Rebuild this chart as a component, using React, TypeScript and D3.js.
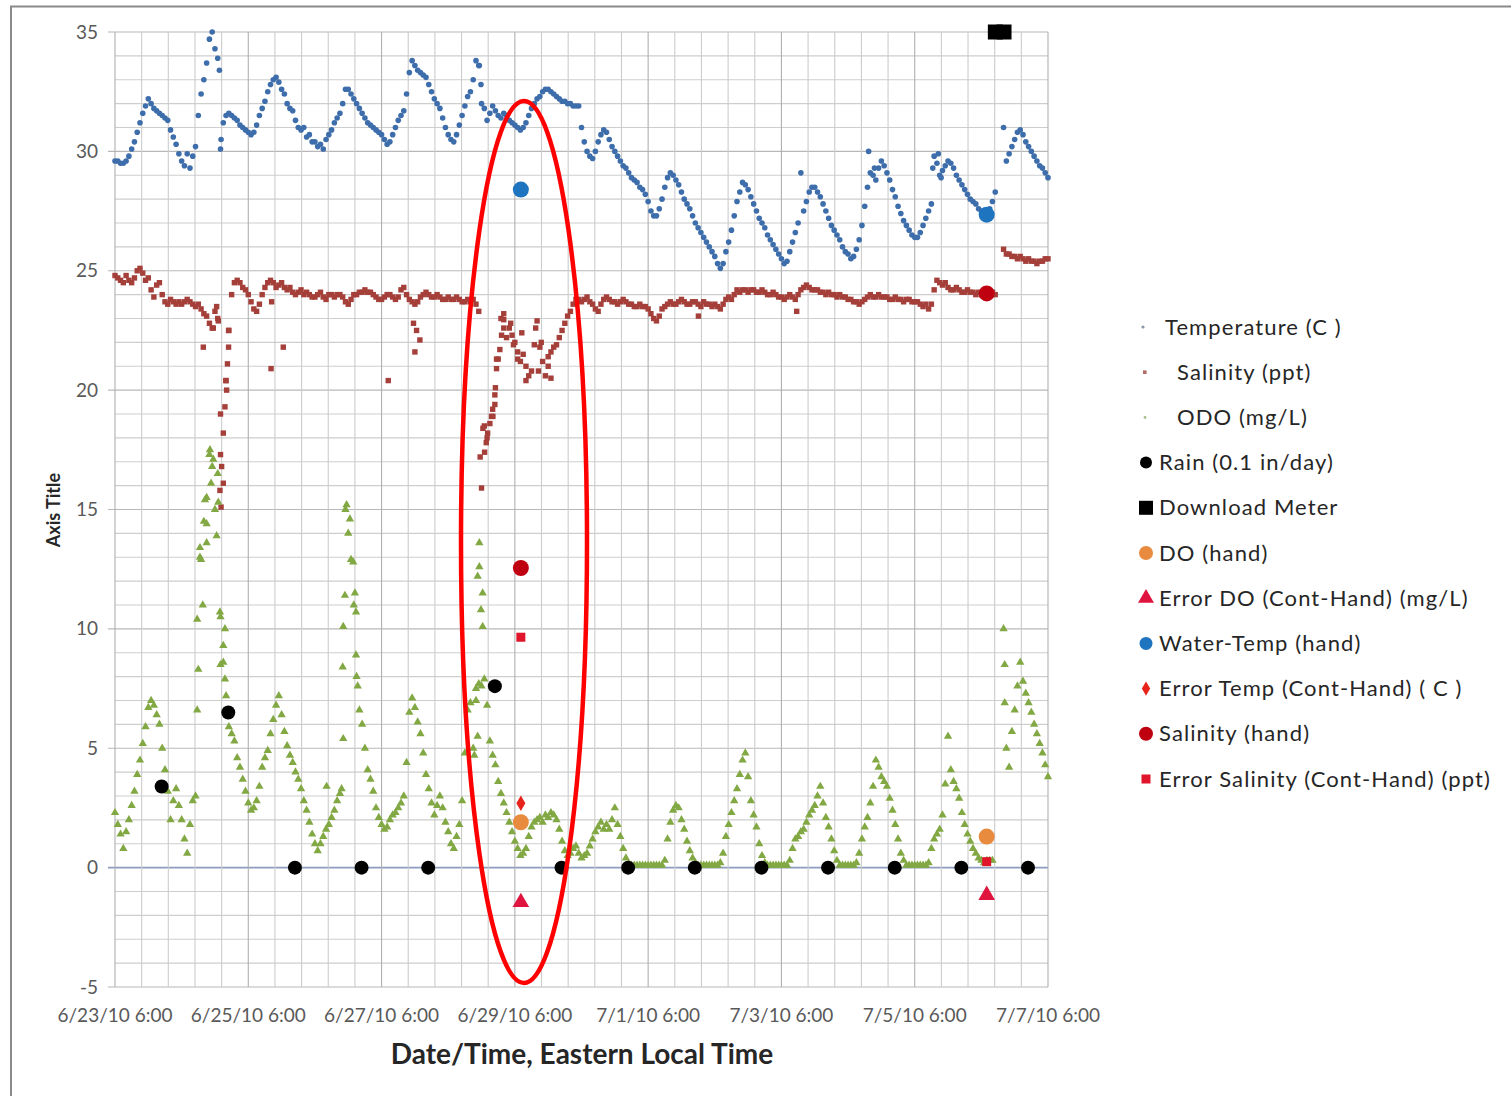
import React from "react";
import * as d3 from "d3";

const W = 1511;
const H = 1096;

// ---- axis labels ----
const xTickLabels = [
  "6/23/10 6:00", "6/25/10 6:00", "6/27/10 6:00", "6/29/10 6:00",
  "7/1/10 6:00", "7/3/10 6:00", "7/5/10 6:00", "7/7/10 6:00",
];
const yTickValues = [35, 30, 25, 20, 15, 10, 5, 0, -5];

// ---- continuous sonde data: hourly readings, hour 0 = 6/23/10 6:00 ----
const temperatureC: (number | null)[] = [
  29.6, 29.6, 29.5, 29.5, 29.6, 29.8, 30.1, 30.4, 30.8, 31.2, 31.6, 31.9, 32.2, 32.0, 31.8, 31.7, 31.6, 31.5, 31.4, 31.3, 30.9, 30.6, 30.3, 29.9,
  29.6, 29.4, 29.9, 29.3, 29.8, 30.2, 31.5, 32.4, 33.0, 33.7, 34.7, 35.0, 34.3, 33.9, 30.1, 31.2, 31.5, 31.6, 31.5, 31.4, 31.3, 31.1, 31.0, 30.9,
  30.8, 30.7, 30.8, 31.1, 31.5, 31.8, 32.1, 32.5, 32.8, 33.0, 33.1, 32.9, 32.6, 32.4, 32.0, 31.8, 31.7, 31.3, 31.0, 30.9, 31.0, 30.6, 30.7, 30.4,
  30.4, 30.2, 30.3, 30.1, 30.5, 30.7, 30.9, 31.2, 31.4, 31.6, 32.0, 32.6, 32.6, 32.4, 32.2, 32.0, 31.8, 31.6, 31.4, 31.2, 31.1, 31.0, 30.9, 30.8,
  30.7, 30.5, 30.3, 30.4, 30.7, 31.0, 31.3, 31.5, 31.7, 32.4, 33.3, 33.8, 33.6, 33.4, 33.3, 33.2, 33.1, 32.8, 32.5, 32.2, 32.0, 31.8, 31.4, 31.0,
  30.7, 30.5, 30.4, 30.7, 31.1, 31.5, 31.9, 32.3, 32.5, 33.0, 33.8, 33.6, 32.0, 31.8, 31.3, 31.6, 31.9, 31.7, 31.5, 31.4, 31.6, 31.5, 31.3, 31.2,
  31.1, 31.0, 30.9, 31.0, 31.2, 31.5, 31.8, 32.0, 32.2, 32.3, 32.5, 32.6, 32.6, 32.5, 32.4, 32.3, 32.2, 32.1, 32.1, 32.0, 32.0, 31.9, 31.9, 31.9,
  31.0, 30.4, 30.0, 29.8, 29.7, 30.0, 30.4, 30.7, 30.9, 30.8, 30.5, 30.2, 30.0, 29.8, 29.6, 29.4, 29.3, 29.1, 28.9, 28.8, 28.7, 28.5, 28.4, 28.2,
  27.9, 27.5, 27.3, 27.3, 27.6, 28.0, 28.5, 28.9, 29.1, 29.0, 28.8, 28.6, 28.3, 28.0, 27.8, 27.6, 27.3, 27.0, 26.8, 26.6, 26.4, 26.2, 26.0, 25.8,
  25.6, 25.3, 25.1, 25.3, 25.8, 26.2, 26.7, 27.3, 27.9, 28.3, 28.7, 28.6, 28.4, 28.1, 27.8, 27.5, 27.2, 27.0, 26.8, 26.5, 26.3, 26.1, 25.9, 25.7,
  25.5, 25.3, 25.4, 25.8, 26.2, 26.6, 27.0, 29.1, 27.5, 27.9, 28.3, 28.5, 28.5, 28.3, 28.1, 27.8, 27.5, 27.2, 26.9, 26.7, 26.5, 26.3, 26.0, 25.8,
  25.7, 25.5, 25.6, 25.9, 26.3, 26.9, 27.7, 28.5, 29.1, 29.0, 28.8, 29.3, 29.6, 29.4, 29.1, 28.8, 28.4, 28.1, 27.7, 27.4, 27.1, 26.9, 26.7, 26.5,
  26.4, 26.4, 26.6, 26.9, 27.2, 27.5, 27.8, 29.8, 29.5, 29.0, 29.2, 29.4, 29.6, 29.5, 29.3, 29.0, 28.8, 28.6, 28.4, 28.2, 28.0, 27.9, 27.8, 27.6,
  27.5, 27.4, 27.4, 27.6, 27.9, 28.3, null, null, 31.0, 29.6, 29.9, 30.2, 30.5, 30.8, 30.9, 30.7, 30.4, 30.2, 30.0, 29.8, 29.6, 29.4, 29.3, 29.1,
  28.9,
];

const salinityPpt: (number | null)[] = [
  24.8, 24.7, 24.6, 24.5, 24.8, 24.6, 24.5, 24.7, 25.0, 25.1, 24.9, 24.6, 24.7, 24.2, 23.9, 24.4, 24.5, 24.0, 23.7, 23.6, 23.8, 23.7, 23.6, 23.7,
  23.6, 23.7, 23.8, 23.7, 23.6, 23.5, 23.6, 23.4, 23.2, 23.1, 22.8, 22.6, 23.3, 23.0, 19.0, 16.1, 20.4, 22.5, 24.0, 24.5, 24.6, 24.5, 24.3, 24.2,
  24.0, 23.7, 23.4, 23.3, 23.6, 24.0, 24.3, 24.5, 24.6, 24.5, 24.3, 24.4, 24.5, 24.3, 24.2, 24.3, 24.1, 24.0, 24.1, 24.2, 24.0, 24.1, 24.0, 23.9,
  23.9, 24.0, 24.1, 23.9, 23.8, 24.0, 24.0, 23.9, 24.0, 24.0, 23.9, 23.7, 23.6, 23.8, 24.0, 24.0, 24.1, 24.1, 24.2, 24.1, 24.1, 24.0, 23.9, 23.8,
  23.8, 23.9, 24.0, 24.0, 23.9, 23.8, 23.9, 24.2, 24.3, 24.0, 23.8, 23.7, 23.6, 23.7, 23.9, 24.0, 24.1, 24.0, 23.9, 23.9, 24.0, 23.9, 23.8, 23.8,
  23.9, 23.8, 23.8, 23.9, 23.8, 23.7, 23.7, 23.8, 23.7, 23.8, 23.6, 23.3, 15.9, 18.5, 18.0, 18.6, 19.2, 20.1, 21.3, 23.0, 22.6, 22.2, 22.6, 22.3,
  22.0, 21.6, 21.2, 21.5, 21.0, 20.6, 20.8, 21.9, 22.9, 21.8, 21.2, 20.6, 21.0, 21.6, 21.8, 21.9, 22.2, 22.5, 22.8, 23.1, 23.3, 23.6, 23.8, 23.8,
  23.7, 23.8, 23.9, 23.7, 23.6, 23.4, 23.3, 23.6, 23.8, 23.9, 23.8, 23.7, 23.7, 23.6, 23.7, 23.8, 23.7, 23.6, 23.6, 23.5, 23.5, 23.6, 23.5, 23.5,
  23.4, 23.2, 23.0, 22.9, 23.1, 23.4, 23.5, 23.6, 23.7, 23.6, 23.6, 23.7, 23.8, 23.7, 23.6, 23.6, 23.7, 23.7, 23.6, 23.5, 23.7, 23.6, 23.6, 23.5,
  23.6, 23.5, 23.4, 23.6, 23.8, 23.9, 23.8, 24.0, 24.2, 24.1, 24.2, 24.2, 24.1, 24.2, 24.2, 24.1, 24.1, 24.2, 24.1, 24.0, 24.0, 24.1, 24.0, 23.9,
  23.9, 23.8, 23.9, 24.0, 23.9, 23.8, 24.0, 24.2, 24.3, 24.4, 24.3, 24.2, 24.2, 24.2, 24.1, 24.1, 24.0, 24.1, 24.0, 24.0, 23.9, 24.0, 23.9, 23.9,
  23.8, 23.8, 23.7, 23.7, 23.6, 23.7, 23.8, 23.9, 24.0, 23.9, 23.9, 24.0, 23.9, 23.9, 23.9, 23.8, 23.8, 23.9, 23.8, 23.8, 23.7, 23.8, 23.8, 23.7,
  23.7, 23.7, 23.6, 23.5, 23.6, 23.4, 23.6, 24.2, 24.6, 24.5, 24.4, 24.5, 24.3, 24.2, 24.2, 24.3, 24.2, 24.1, 24.1, 24.2, 24.1, 24.1, 24.0, 24.1,
  24.0, 24.1, 24.0, 24.0, 24.1, 24.0, null, null, 25.9, 25.7, 25.7, 25.6, 25.6, 25.5, 25.6, 25.5, 25.4, 25.5, 25.4, 25.4, 25.3, 25.4, 25.4, 25.5,
  25.5,
];

const odoMgL: (number | null)[] = [
  2.3, 1.8, 1.4, 0.8, 1.5, 2.0, 2.6, 3.2, 3.9, 4.5, 5.2, 5.9, 6.7, 7.0, 6.8, 6.4, 6.0, 5.0, 4.1, 3.2, 2.0, 2.8, 3.3, 2.6,
  2.0, 1.2, 0.6, 1.8, 2.8, 3.0, 8.3, 12.9, 14.5, 15.5, 17.3, 16.8, 15.0, 16.5, 10.5, 8.6, 7.2, 5.9, 5.6, 5.3, 4.6, 4.2, 3.7, 3.2,
  2.7, 2.4, 2.5, 2.8, 3.4, 4.2, 4.6, 4.9, 5.6, 6.2, 6.8, 7.2, 6.4, 5.7, 5.1, 4.7, 4.4, 4.0, 3.7, 3.3, 2.8, 2.4, 1.9, 1.4,
  1.0, 0.7, 1.0, 1.3, 1.6, 1.8, 2.1, 2.4, 2.8, 3.1, 8.4, 15.0, 14.0, 12.9, 11.0, 8.0, 6.6, 6.0, 5.0, 4.1, 3.7, 3.2, 2.5, 2.1,
  1.8, 1.6, 1.7, 2.0, 2.2, 2.3, 2.5, 2.7, 3.0, 4.4, 6.5, 7.1, 6.7, 6.1, 5.6, 4.8, 3.9, 3.3, 2.7, 2.2, 2.6, 3.0, 2.5, 1.9,
  1.5, 1.0, 0.8, 1.3, 1.8, 2.8, 4.8, 6.6, 6.9, 5.0, 7.5, 7.7, 7.6, 7.9, 6.8, 5.3, 4.7, 4.3, 3.6, 3.1, 2.7, 2.3, 1.9, 1.5,
  1.1, 0.8, 0.5, 0.6, 0.8, 1.3, 1.7, 1.9, 2.0, 2.1, 1.9, 2.2, 2.1, 2.3, 2.2, 2.0, 1.6, 1.1, 0.7, 0.5, 0.6, 0.8, 0.9, 0.6,
  0.4, 0.5, 0.6, 0.9, 1.2, 1.5, 1.7, 1.9, 1.6, 1.8, 1.6, 2.0, 2.5, 1.8, 1.3, 0.8, 0.4, 0.15, 0.1, 0.1, 0.1, 0.1, 0.1, 0.1,
  0.1, 0.1, 0.1, 0.1, 0.1, 0.1, 0.3, 1.2, 1.9, 2.4, 2.6, 2.5, 2.0, 1.6, 1.1, 0.7, 0.4, 0.2, 0.1, 0.1, 0.1, 0.1, 0.1, 0.1,
  0.1, 0.1, 0.2, 0.6, 1.3, 1.8, 2.3, 2.8, 3.3, 3.9, 4.5, 4.8, 3.8, 2.8, 2.2, 1.7, 1.0, 0.5, 0.2, 0.1, 0.1, 0.1, 0.1, 0.1,
  0.1, 0.1, 0.1, 0.3, 0.8, 1.2, 1.3, 1.5, 1.6, 1.9, 2.2, 2.4, 2.6, 3.0, 3.4, 2.7, 2.1, 1.7, 1.2, 0.7, 0.3, 0.1, 0.1, 0.1,
  0.1, 0.1, 0.1, 0.2, 0.6, 1.2, 1.7, 2.1, 2.7, 3.4, 4.5, 4.2, 3.8, 3.6, 3.4, 2.9, 2.4, 1.8, 1.2, 0.6, 0.3, 0.1, 0.1, 0.1,
  0.1, 0.1, 0.1, 0.1, 0.1, 0.2, 0.8, 1.2, 1.4, 1.6, 2.2, 3.5, 5.5, 4.1, 3.6, 3.3, 2.9, 2.3, 1.8, 1.4, 1.1, 0.8, 0.6, 0.4,
  0.3, 0.2, 0.3, 0.3, 0.3, null, null, null, 10.0, 5.0, 4.2, 5.7, 6.6, 7.6, 8.6, 7.8, 7.3, 6.9, 6.5, 6.0, 5.6, 5.2, 4.8, 4.3,
  3.8,
];

// extra (off-hour) readings seen in the picture: [hour, value]
const temperatureExtra: [number, number][] = [
  [37.6, 33.4], [38.2, 30.5], [131.2, 33.6], [131.8, 32.8], [271.4, 30.0], [273.5, 29.3],
  [294.5, 29.3], [296.5, 29.9], [297.5, 28.9],
];
const salinityExtra: [number, number][] = [
  [31.8, 21.8], [35.4, 22.6], [36.6, 23.5], [37.2, 22.9], [37.8, 15.8], [38.2, 15.1], [38.4, 16.8],
  [39.0, 18.2], [39.6, 19.3], [40.2, 20.0], [39.9, 20.4], [40.5, 21.1], [40.9, 21.8], [40.9, 22.5],
  [38.0, 17.3], [56.4, 23.7], [56.2, 20.9], [60.6, 21.8], [98.4, 20.4], [108.0, 21.6], [108.6, 22.5],
  [109.8, 22.1], [107.5, 22.8], [131.5, 17.2], [132.5, 18.4], [133.1, 17.4], [133.7, 17.8], [134.2, 18.2],
  [135.6, 18.9], [136.1, 18.9], [136.8, 19.4], [136.8, 19.8], [137.4, 20.9], [137.4, 21.3], [138.6, 21.7],
  [139.2, 22.3], [140.0, 22.95], [140.0, 23.2], [142.5, 22.8], [143.5, 21.9], [145.0, 21.3], [146.5, 22.4],
  [148.0, 20.4], [151.5, 22.6], [152.5, 20.8], [153.5, 22.0], [156.0, 21.4], [157.0, 20.5], [210.1, 23.1],
  [245.5, 23.3],
];
const odoExtra: [number, number][] = [
  [29.6, 6.6], [29.6, 10.4], [30.6, 13.0], [30.6, 13.4], [31.6, 11.0], [32.4, 15.4], [33.0, 14.4],
  [33.0, 13.6], [34.2, 17.5], [34.6, 16.1], [35.4, 17.1], [36.6, 13.9], [37.2, 15.3], [37.8, 10.7],
  [39.0, 9.3], [39.6, 10.0], [39.6, 7.9], [38.0, 8.5], [76.2, 3.4], [81.6, 3.3], [82.2, 10.1],
  [82.2, 5.4], [82.8, 11.4], [83.4, 15.2], [84.6, 14.6], [85.8, 12.8], [86.4, 11.5], [86.8, 10.7],
  [86.8, 8.9], [87.4, 7.6], [129.4, 4.7], [130.0, 7.0], [130.6, 12.2], [130.6, 5.5], [131.2, 13.6],
  [131.2, 12.6], [131.8, 10.8], [132.4, 11.5], [132.4, 10.1], [320.4, 8.5], [320.4, 6.9],
];

// ---- discrete observations (x in days after 6/23/10 6:00) ----
const rainDays = [0.7, 1.7, 2.7, 3.7, 4.7, 5.7, 6.7, 7.7, 8.7, 9.7, 10.7, 11.7, 12.7, 13.7];
const rainValues = [3.4, 6.5, 0, 0, 0, 7.6, 0, 0, 0, 0, 0, 0, 0, 0];
const downloadDays = [13.21, 13.34];
const downloadValues = [35, 35];
const handDays = [6.09, 13.08];
const doHand = [1.9, 1.3];
const errorDO = [-1.45, -1.15];
const waterTempHand = [28.4, 27.35];
const errorTempDays = [6.09];
const errorTemp = [2.7];
const salinityHand = [12.55, 24.05];
const errorSalinity = [9.65, 0.25];

const legendLabels = [
  "Temperature (C )", "Salinity (ppt)", "ODO (mg/L)", "Rain (0.1 in/day)", "Download Meter",
  "DO (hand)", "Error DO (Cont-Hand) (mg/L)", "Water-Temp (hand)", "Error Temp (Cont-Hand) ( C )",
  "Salinity (hand)", "Error Salinity (Cont-Hand) (ppt)",
];

const FONT = "Lato, 'Open Sans', 'Noto Sans', sans-serif";

export default function App() {
  const x = d3.scaleLinear().domain([0, 14]).range([115, 1048]);
  const y = d3.scaleLinear().domain([-5, 35]).range([987, 32]);
  const hx = (h: number) => x(h / 24);

  const triPath = (size: number) => d3.symbol().type(d3.symbolTriangle).size(size)() as string;
  const diaPath = (size: number) => d3.symbol().type(d3.symbolDiamond).size(size)() as string;

  const vGrid = d3.range(0, 14.0001, 0.4);
  const hGrid = d3.range(-5, 35.0001, 1);

  const C = {
    temp: "#3D6DAA",
    sal: "#A53F3A",
    odo: "#82A844",
    rain: "#000",
    doHand: "#E98B3E",
    errDO: "#E0153F",
    wtHand: "#1F74BF",
    errT: "#E8231C",
    salHand: "#BE0010",
    errS: "#E0152B",
  };

  const keep = (arr: (number | null)[]) =>
    arr
      .map((v, i) => [i, v] as [number, number | null])
      .filter((d) => d[1] !== null) as [number, number][];
  const tempPts = keep(temperatureC);
  const salPts = keep(salinityPpt);
  const odoPts = keep(odoMgL);

  const legendY0 = 327;
  const legendStep = 45.2;
  const sq = 5.4;
  const tr = 2.8;
  const triSize = 30;

  return (
    <svg
      width={W}
      height={H}
      style={{ position: "absolute", left: 0, top: 0, display: "block" }}
      fontFamily={FONT}
    >
      <rect x={0} y={0} width={W} height={H} fill="#fff" />
      <rect x={11} y={6.5} width={W + 10} height={H + 10} fill="none" stroke="#8a8a8a" strokeWidth={2} />

      {/* gridlines */}
      <g>
        {hGrid.map((v) => (
          <line
            key={"h" + v}
            x1={v % 5 === 0 ? 108 : 115}
            x2={1048}
            y1={y(v)}
            y2={y(v)}
            stroke={v === 0 ? "#8C9CBE" : v % 5 === 0 ? "#B8B8B8" : "#CECECE"}
            strokeWidth={v === 0 ? 1.6 : 1.1}
          />
        ))}
        {vGrid.map((d, i) => (
          <line
            key={"v" + i}
            x1={x(d)}
            x2={x(d)}
            y1={32}
            y2={987}
            stroke={i % 5 === 0 ? "#B0B0B0" : "#CCCCCC"}
            strokeWidth={1.1}
          />
        ))}
      </g>

      {/* y tick labels */}
      <g fill="#595959" fontSize={19} textAnchor="end">
        {yTickValues.map((v) => (
          <text key={v} x={98} y={y(v) + 6.5}>
            {v}
          </text>
        ))}
      </g>
      {/* x tick labels */}
      <g fill="#595959" fontSize={19} textAnchor="middle">
        {xTickLabels.map((t, i) => (
          <text key={t} x={x(i * 2)} y={1022}>
            {t}
          </text>
        ))}
      </g>

      {/* axis titles */}
      <text x={582} y={1064} textAnchor="middle" fontSize={28} fontWeight="bold" fill="#262626">
        Date/Time, Eastern Local Time
      </text>
      <text
        transform="translate(60,510) rotate(-90)"
        textAnchor="middle"
        fontSize={18}
        fontWeight="bold"
        fill="#262626"
      >
        Axis Title
      </text>

      {/* continuous series */}
      <g fill={C.temp}>
        {tempPts.map(([h, v]) => (
          <circle key={"t" + h} cx={hx(h)} cy={y(v)} r={tr} />
        ))}
        {temperatureExtra.map(([h, v], i) => (
          <circle key={"te" + i} cx={hx(h)} cy={y(v)} r={tr} />
        ))}
      </g>
      <g fill={C.sal}>
        {salPts.map(([h, v]) => (
          <rect key={"s" + h} x={hx(h) - sq / 2} y={y(v) - sq / 2} width={sq} height={sq} />
        ))}
        {salinityExtra.map(([h, v], i) => (
          <rect key={"se" + i} x={hx(h) - sq / 2} y={y(v) - sq / 2} width={sq} height={sq} />
        ))}
      </g>
      <g fill={C.odo}>
        {odoPts.map(([h, v]) => (
          <path key={"o" + h} d={triPath(triSize)} transform={`translate(${hx(h)},${y(v)})`} />
        ))}
        {odoExtra.map(([h, v], i) => (
          <path key={"oe" + i} d={triPath(triSize)} transform={`translate(${hx(h)},${y(v)})`} />
        ))}
      </g>

      {/* discrete series */}
      <g fill={C.rain}>
        {rainDays.map((d, i) => (
          <circle key={"r" + i} cx={x(d)} cy={y(rainValues[i])} r={7} />
        ))}
      </g>
      <g fill="#000">
        {downloadDays.map((d, i) => (
          <rect key={"dl" + i} x={x(d) - 7.5} y={y(downloadValues[i]) - 7.5} width={15} height={15} />
        ))}
      </g>
      <g fill={C.doHand}>
        {handDays.map((d, i) => (
          <circle key={"dh" + i} cx={x(d)} cy={y(doHand[i])} r={8} />
        ))}
      </g>
      <g fill={C.errDO}>
        {handDays.map((d, i) => (
          <path key={"ed" + i} d={triPath(120)} transform={`translate(${x(d)},${y(errorDO[i])})`} />
        ))}
      </g>
      <g fill={C.wtHand}>
        {handDays.map((d, i) => (
          <circle key={"wt" + i} cx={x(d)} cy={y(waterTempHand[i])} r={8} />
        ))}
      </g>
      <g fill={C.errT}>
        {errorTempDays.map((d, i) => (
          <path key={"et" + i} d={diaPath(70)} transform={`translate(${x(d)},${y(errorTemp[i])})`} />
        ))}
      </g>
      <g fill={C.salHand}>
        {handDays.map((d, i) => (
          <circle key={"sh" + i} cx={x(d)} cy={y(salinityHand[i])} r={8} />
        ))}
      </g>
      <g fill={C.errS}>
        {handDays.map((d, i) => (
          <rect key={"es" + i} x={x(d) - 4.5} y={y(errorSalinity[i]) - 4.5} width={9} height={9} />
        ))}
      </g>

      {/* annotation ellipse */}
      <ellipse cx={524} cy={542} rx={63} ry={441} fill="none" stroke="#FF0000" strokeWidth={4.5} />

      {/* legend */}
      <g fontSize={22} fill="#262626" letterSpacing={1.1}>
        {legendLabels.map((label, i) => {
          const cy = legendY0 + i * legendStep;
          const tx = i === 0 ? 1165 : i < 3 ? 1177 : 1159;
          let marker: React.ReactNode = null;
          if (i === 0) marker = <circle cx={1143} cy={cy} r={1.6} fill="#8a98aa" />;
          else if (i === 1) marker = <rect x={1143} y={cy - 1.8} width={3.6} height={3.6} fill="#b46a66" />;
          else if (i === 2) marker = <circle cx={1145} cy={cy} r={1.4} fill="#a9bd8a" />;
          else if (i === 3) marker = <circle cx={1146} cy={cy} r={6} fill={C.rain} />;
          else if (i === 4) marker = <rect x={1139} y={cy - 7} width={14} height={14} fill="#000" />;
          else if (i === 5) marker = <circle cx={1146} cy={cy} r={7} fill={C.doHand} />;
          else if (i === 6) marker = <path d={triPath(110)} transform={`translate(${1146},${cy})`} fill={C.errDO} />;
          else if (i === 7) marker = <circle cx={1146} cy={cy} r={6.5} fill={C.wtHand} />;
          else if (i === 8) marker = <path d={diaPath(60)} transform={`translate(${1146},${cy})`} fill={C.errT} />;
          else if (i === 9) marker = <circle cx={1146} cy={cy} r={7} fill={C.salHand} />;
          else marker = <rect x={1141.5} y={cy - 4.5} width={9} height={9} fill={C.errS} />;
          return (
            <g key={label}>
              {marker}
              <text x={tx} y={cy + 7.5}>
                {label}
              </text>
            </g>
          );
        })}
      </g>
    </svg>
  );
}
